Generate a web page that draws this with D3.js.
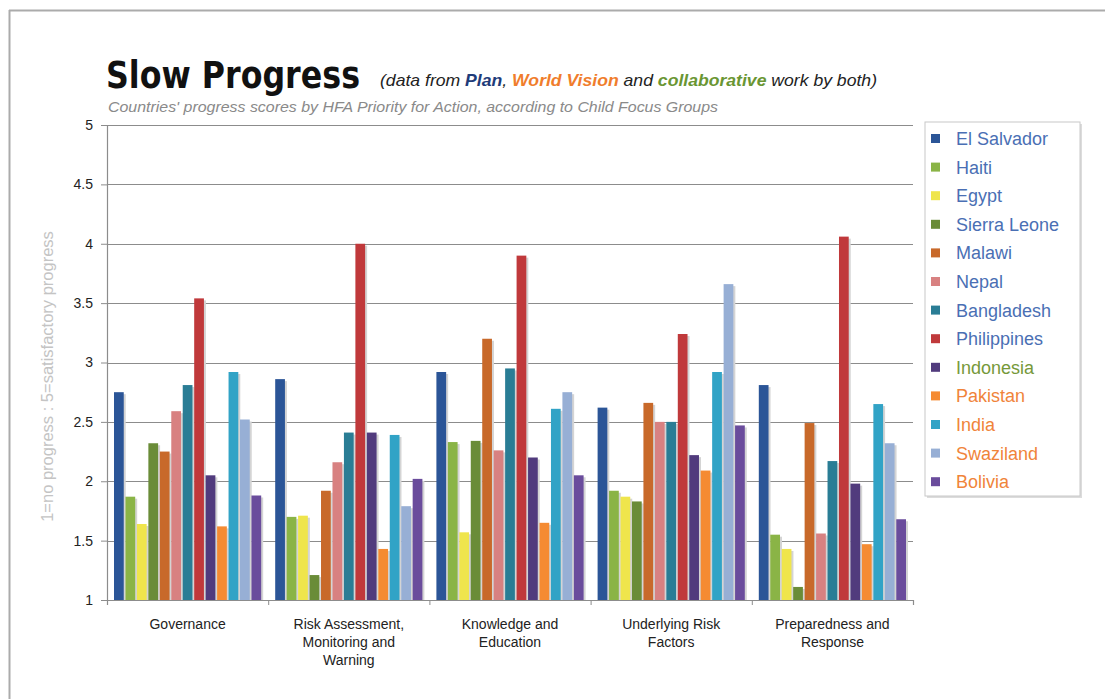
<!DOCTYPE html>
<html>
<head>
<meta charset="utf-8">
<script src="https://cdn.jsdelivr.net/npm/d3@7"></script>
<style>
  body { margin: 0; background: #fff; }
  svg { display: block; }
</style>
</head>
<body>
<script>
// categories (HFA priorities) and countries
var categories = [["Governance"], ["Risk Assessment,", "Monitoring and", "Warning"], ["Knowledge and", "Education"], ["Underlying Risk", "Factors"], ["Preparedness and", "Response"]];
var countries = ["El Salvador", "Haiti", "Egypt", "Sierra Leone", "Malawi", "Nepal", "Bangladesh", "Philippines", "Indonesia", "Pakistan", "India", "Swaziland", "Bolivia"];

// scores per country, in category order
var elSalvador  = [2.75, 2.86, 2.92, 2.62, 2.81];
var haiti       = [1.87, 1.70, 2.33, 1.92, 1.55];
var egypt       = [1.64, 1.71, 1.57, 1.87, 1.43];
var sierraLeone = [2.32, 1.21, 2.34, 1.83, 1.11];
var malawi      = [2.25, 1.92, 3.20, 2.66, 2.49];
var nepal       = [2.59, 2.16, 2.26, 2.50, 1.56];
var bangladesh  = [2.81, 2.41, 2.95, 2.50, 2.17];
var philippines = [3.54, 4.00, 3.90, 3.24, 4.06];
var indonesia   = [2.05, 2.41, 2.20, 2.22, 1.98];
var pakistan    = [1.62, 1.43, 1.65, 2.09, 1.47];
var india       = [2.92, 2.39, 2.61, 2.92, 2.65];
var swaziland   = [2.52, 1.79, 2.75, 3.66, 2.32];
var bolivia     = [1.88, 2.02, 2.05, 2.47, 1.68];

var yTicks = [1, 1.5, 2, 2.5, 3, 3.5, 4, 4.5, 5];

var series = [elSalvador, haiti, egypt, sierraLeone, malawi, nepal, bangladesh, philippines, indonesia, pakistan, india, swaziland, bolivia];

var colors = ["#2b5597", "#8ab446", "#efe54c", "#6a8c38", "#c8692a", "#d88181", "#2a7d95", "#c0393b", "#513b7d", "#f58b32", "#31a3c6", "#97afd5", "#6a4c9c"];
// legend text colours: Plan (blue), collaborative (green), World Vision (orange)
var legendText = ["#4a6fb4", "#4a6fb4", "#4a6fb4", "#4a6fb4", "#4a6fb4", "#4a6fb4", "#4a6fb4", "#4a6fb4", "#76993a", "#f0843a", "#f0843a", "#f0843a", "#f0843a"];

var width = 1105, height = 699;
var margin = {left: 107, right: 192, top: 125, bottom: 99};

var svg = d3.select("body").append("svg")
    .attr("width", width)
    .attr("height", height);

// frame (left and top edges only are visible)
svg.append("line").attr("x1", 9.5).attr("x2", 9.5).attr("y1", 10).attr("y2", height)
    .attr("stroke", "#ababab").attr("stroke-width", 2);
svg.append("line").attr("x1", 9).attr("x2", width).attr("y1", 10.5).attr("y2", 10.5)
    .attr("stroke", "#ababab").attr("stroke-width", 2);

var x0 = d3.scaleBand()
    .domain(d3.range(categories.length))
    .range([margin.left, width - margin.right]);

var x1 = d3.scaleBand()
    .domain(d3.range(countries.length))
    .range([7, x0.bandwidth() - 7])
    .paddingInner(0.15);

var y = d3.scaleLinear()
    .domain([1, 5])
    .range([height - margin.bottom, margin.top]);

// gridlines
svg.append("g")
    .selectAll("line")
    .data(yTicks.slice(1))
    .enter()
    .append("line")
    .attr("x1", margin.left)
    .attr("x2", width - margin.right)
    .attr("y1", function(d) { return Math.round(y(d)) + 0.5; })
    .attr("y2", function(d) { return Math.round(y(d)) + 0.5; })
    .attr("stroke", "#8c8c8c")
    .attr("stroke-width", 1.2);

// bars
var groups = svg.append("g")
    .selectAll("g")
    .data(categories)
    .enter()
    .append("g")
    .attr("transform", function(d, i) { return "translate(" + x0(i) + ",0)"; });

// soft shadow to the right of each bar
groups.selectAll("rect.shadow")
    .data(function(d, ci) { return series.map(function(s, si) { return {si: si, v: s[ci]}; }); })
    .enter()
    .append("rect")
    .attr("class", "shadow")
    .attr("x", function(d) { return x1(d.si) + 2; })
    .attr("y", function(d) { return y(d.v) + 2; })
    .attr("width", x1.bandwidth())
    .attr("height", function(d) { return y(1) - y(d.v) - 2; })
    .attr("fill", "#d4d4d4");

groups.selectAll("rect.bar")
    .data(function(d, ci) { return series.map(function(s, si) { return {si: si, v: s[ci]}; }); })
    .enter()
    .append("rect")
    .attr("class", "bar")
    .attr("x", function(d) { return x1(d.si); })
    .attr("y", function(d) { return y(d.v); })
    .attr("width", x1.bandwidth())
    .attr("height", function(d) { return y(1) - y(d.v); })
    .attr("fill", function(d) { return colors[d.si]; });

// y axis
var yAxis = svg.append("g")
    .attr("transform", "translate(" + margin.left + ",0)")
    .call(d3.axisLeft(y).tickValues(yTicks).tickFormat(d3.format("")).tickSize(6).tickPadding(8));
yAxis.select(".domain").attr("stroke", "#8c8c8c").attr("stroke-width", 1.2);
yAxis.selectAll(".tick line").attr("stroke", "#8c8c8c");
yAxis.selectAll("text")
    .attr("font-family", "Liberation Sans, Arial, sans-serif")
    .attr("font-size", 14)
    .attr("fill", "#222");

// x axis
var xAxis = svg.append("g")
    .attr("transform", "translate(0," + y(1) + ")")
    .call(d3.axisBottom(d3.scaleLinear().domain([0, categories.length]).range([margin.left, width - margin.right]))
        .tickValues(d3.range(categories.length + 1)).tickFormat("").tickSize(5));
xAxis.select(".domain").attr("stroke", "#8c8c8c").attr("stroke-width", 1.2);
xAxis.selectAll(".tick line").attr("stroke", "#8c8c8c");

var catLabels = svg.append("g")
    .selectAll("text")
    .data(categories)
    .enter()
    .append("text")
    .attr("x", function(d, i) { return x0(i) + x0.bandwidth() / 2; })
    .attr("y", y(1) + 29)
    .attr("text-anchor", "middle")
    .attr("font-family", "Liberation Sans Narrow, Liberation Sans, Arial, sans-serif")
    .attr("font-size", 14)
    .attr("fill", "#222");
catLabels.selectAll("tspan")
    .data(function(d) { return d; })
    .enter()
    .append("tspan")
    .attr("x", function() { return this.parentNode.getAttribute("x"); })
    .attr("dy", function(d, i) { return i === 0 ? 0 : 18; })
    .text(function(d) { return d; });

// y axis title
svg.append("text")
    .attr("transform", "translate(53," + ((y(1) + y(5)) / 2 + 14) + ") rotate(-90)")
    .attr("text-anchor", "middle")
    .attr("font-family", "Liberation Sans, Arial, sans-serif")
    .attr("font-size", 16.5)
    .attr("fill", "#c4c4c4")
    .text("1=no progress : 5=satisfactory progress");

// titles
svg.append("text")
    .attr("x", 106)
    .attr("y", 88)
    .attr("font-family", "DejaVu Sans Condensed, DejaVu Sans, sans-serif")
    .attr("font-weight", "bold")
    .attr("font-size", 37)
    .attr("textLength", 254)
    .attr("lengthAdjust", "spacingAndGlyphs")
    .attr("fill", "#111")
    .text("Slow Progress");

var sub = svg.append("text")
    .attr("x", 380)
    .attr("y", 86)
    .attr("font-family", "Liberation Sans Narrow, Liberation Sans, Arial, sans-serif")
    .attr("font-style", "italic")
    .attr("font-size", 17)
    .attr("textLength", 497)
    .attr("lengthAdjust", "spacingAndGlyphs")
    .attr("fill", "#222");
var subParts = [["(data from ", "#222", "normal"], ["Plan", "#1f3c7a", "bold"], [", ", "#222", "normal"], ["World Vision", "#f07d2c", "bold"], [" and ", "#222", "normal"], ["collaborative", "#6a9633", "bold"], [" work by both)", "#222", "normal"]];
sub.selectAll("tspan")
    .data(subParts)
    .enter()
    .append("tspan")
    .attr("fill", function(d) { return d[1]; })
    .attr("font-weight", function(d) { return d[2]; })
    .text(function(d) { return d[0]; });

svg.append("text")
    .attr("x", 108)
    .attr("y", 112)
    .attr("font-family", "Liberation Sans Narrow, Liberation Sans, Arial, sans-serif")
    .attr("font-style", "italic")
    .attr("font-size", 14.5)
    .attr("textLength", 610)
    .attr("lengthAdjust", "spacingAndGlyphs")
    .attr("fill", "#8a8a8a")
    .text("Countries' progress scores by HFA Priority for Action, according to Child Focus Groups");

// legend
var lgX = 925, lgY = 122, lgW = 155, lgH = 374;
svg.append("rect")
    .attr("x", lgX + 2).attr("y", lgY + 2).attr("width", lgW).attr("height", lgH)
    .attr("fill", "#dcdcdc");
svg.append("rect")
    .attr("x", lgX).attr("y", lgY).attr("width", lgW).attr("height", lgH)
    .attr("fill", "#fff").attr("stroke", "#c8c8c8");

var legend = svg.append("g")
    .selectAll("g")
    .data(countries)
    .enter()
    .append("g")
    .attr("transform", function(d, i) { return "translate(" + (lgX + 6) + "," + (lgY + 17 + i * 28.6) + ")"; });
legend.append("rect")
    .attr("x", 0).attr("y", -5).attr("width", 9).attr("height", 9)
    .attr("fill", function(d, i) { return colors[i]; });
legend.append("text")
    .attr("x", 25)
    .attr("y", 6)
    .attr("font-family", "Liberation Sans, Arial, sans-serif")
    .attr("font-size", 18)
    .attr("fill", function(d, i) { return legendText[i]; })
    .text(function(d) { return d; });
</script>
</body>
</html>
